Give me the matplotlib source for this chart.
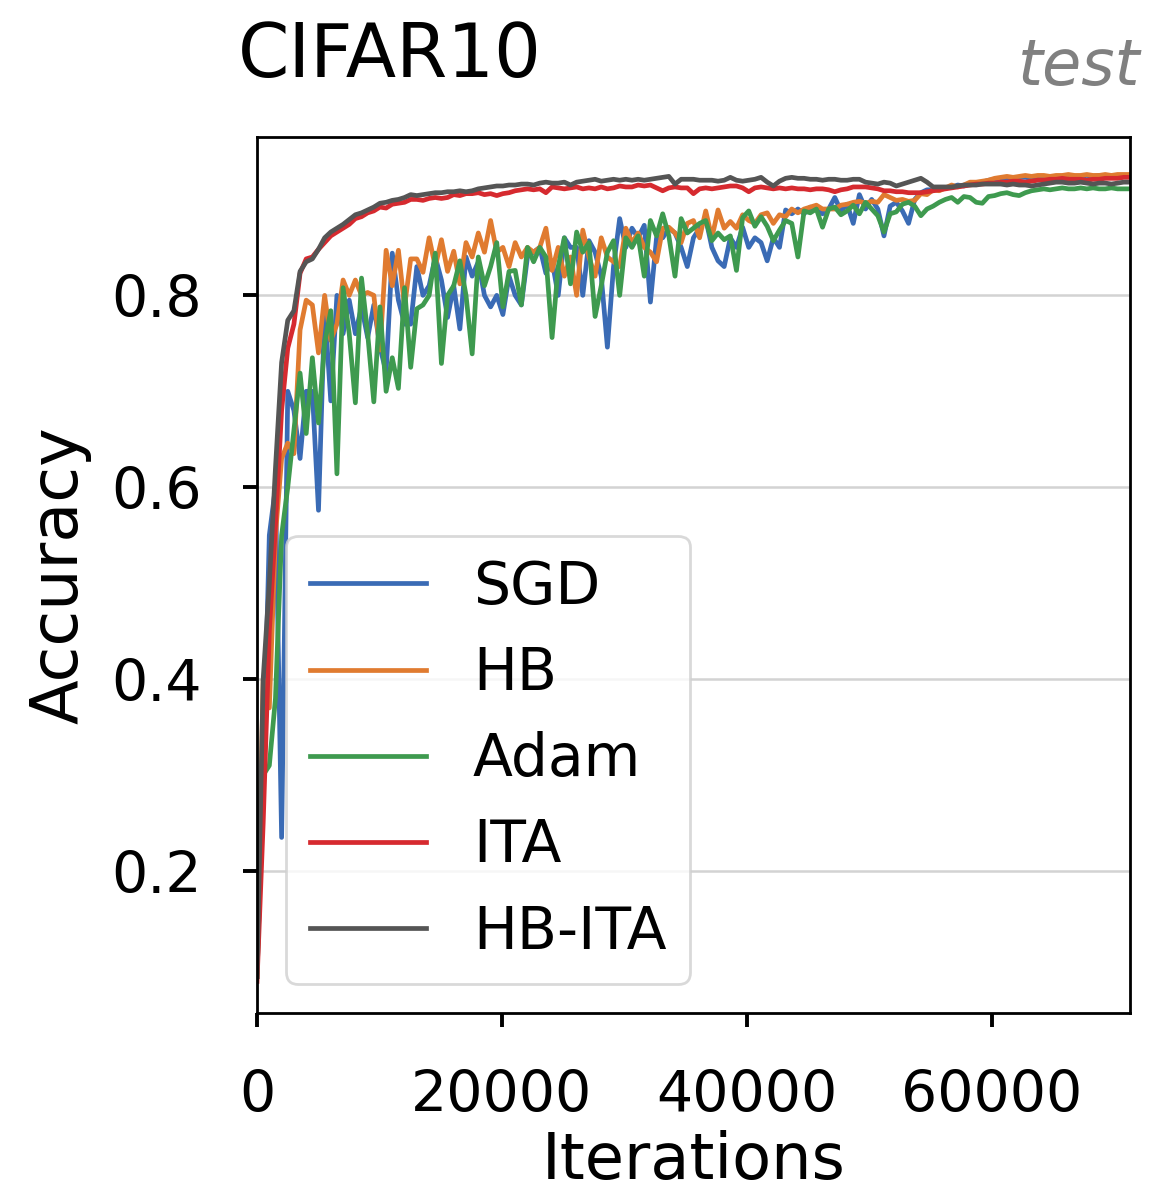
import numpy as np
import matplotlib.pyplot as plt

# test accuracy, one value every `step` iterations
step = 502

sgd = [0.09, 0.30, 0.55, 0.60, 0.235, 0.70, 0.68, 0.63, 0.70, 0.70,
       0.576, 0.786, 0.69, 0.80, 0.76, 0.795, 0.76, 0.788, 0.756, 0.79,
       0.746, 0.72, 0.844, 0.795, 0.77, 0.77, 0.83, 0.80, 0.81, 0.84,
       0.816, 0.777, 0.81, 0.765, 0.84, 0.82, 0.835, 0.80, 0.788, 0.80,
       0.78, 0.82, 0.80, 0.79, 0.84, 0.845, 0.85, 0.823, 0.836, 0.80,
       0.86, 0.85, 0.85, 0.80, 0.857, 0.845, 0.82, 0.746, 0.83, 0.88,
       0.85, 0.87, 0.86, 0.873, 0.793, 0.86, 0.86, 0.87, 0.865, 0.85,
       0.83, 0.86, 0.87, 0.88, 0.85, 0.836, 0.83, 0.86, 0.85, 0.871,
       0.85, 0.86, 0.855, 0.836, 0.86, 0.85, 0.889, 0.885, 0.89, 0.885,
       0.892, 0.89, 0.885, 0.89, 0.902, 0.888, 0.895, 0.875, 0.905, 0.89,
       0.90, 0.89, 0.862, 0.893, 0.897, 0.888, 0.875, 0.90, 0.907, 0.91,
       0.91, 0.912, 0.912, 0.913, 0.915, 0.914, 0.916, 0.917, 0.918, 0.92,
       0.921, 0.922, 0.921, 0.922, 0.923, 0.923, 0.922, 0.923, 0.924, 0.923,
       0.924, 0.924, 0.925, 0.924, 0.924, 0.925, 0.924, 0.925, 0.925, 0.924,
       0.925, 0.925, 0.925]

hb = [0.09, 0.40, 0.37, 0.55, 0.63, 0.646, 0.635, 0.764, 0.795, 0.79,
      0.74, 0.80, 0.753, 0.77, 0.816, 0.80, 0.816, 0.80, 0.803, 0.80,
      0.743, 0.847, 0.81, 0.847, 0.788, 0.838, 0.838, 0.824, 0.86, 0.83,
      0.858, 0.825, 0.846, 0.812, 0.855, 0.84, 0.865, 0.845, 0.878, 0.845,
      0.85, 0.83, 0.855, 0.84, 0.85, 0.845, 0.85, 0.87, 0.826, 0.85,
      0.82, 0.84, 0.80, 0.868, 0.84, 0.82, 0.86, 0.84, 0.835, 0.83,
      0.87, 0.855, 0.865, 0.85, 0.845, 0.835, 0.87, 0.871, 0.865, 0.855,
      0.875, 0.878, 0.86, 0.888, 0.86, 0.889, 0.87, 0.877, 0.87, 0.884,
      0.878, 0.875, 0.884, 0.886, 0.875, 0.884, 0.882, 0.89, 0.886, 0.89,
      0.892, 0.894, 0.89, 0.89, 0.89, 0.894, 0.895, 0.897, 0.898, 0.896,
      0.898, 0.897, 0.905, 0.902, 0.899, 0.90, 0.898, 0.899, 0.906, 0.905,
      0.91, 0.909, 0.912, 0.915, 0.913, 0.915, 0.918, 0.918, 0.919, 0.92,
      0.922, 0.923, 0.924, 0.923, 0.924, 0.925, 0.924, 0.925, 0.925, 0.924,
      0.925, 0.925, 0.926, 0.925, 0.925, 0.926, 0.925, 0.925, 0.926, 0.925,
      0.926, 0.926, 0.926]

adam = [0.09, 0.30, 0.31, 0.38, 0.55, 0.60, 0.66, 0.719, 0.656, 0.735,
        0.667, 0.75, 0.784, 0.614, 0.808, 0.76, 0.688, 0.818, 0.76, 0.689,
        0.788, 0.70, 0.735, 0.703, 0.808, 0.725, 0.786, 0.79, 0.80, 0.844,
        0.729, 0.80, 0.81, 0.836, 0.80, 0.739, 0.84, 0.81, 0.83, 0.855,
        0.788, 0.825, 0.826, 0.79, 0.85, 0.835, 0.85, 0.84, 0.756, 0.83,
        0.86, 0.812, 0.866, 0.845, 0.855, 0.778, 0.81, 0.845, 0.857, 0.80,
        0.86, 0.85, 0.862, 0.82, 0.878, 0.862, 0.885, 0.862, 0.82, 0.88,
        0.865, 0.87, 0.875, 0.878, 0.857, 0.865, 0.858, 0.862, 0.826, 0.881,
        0.888, 0.872, 0.882, 0.872, 0.857, 0.868, 0.878, 0.875, 0.84, 0.888,
        0.886, 0.89, 0.871, 0.89, 0.892, 0.884, 0.888, 0.894, 0.885, 0.897,
        0.89, 0.883, 0.866, 0.885, 0.887, 0.895, 0.897, 0.893, 0.883, 0.89,
        0.893, 0.897, 0.90, 0.902, 0.897, 0.903, 0.902, 0.897, 0.896, 0.903,
        0.904, 0.906, 0.907, 0.905, 0.904, 0.907, 0.909, 0.91, 0.911, 0.91,
        0.911, 0.912, 0.911, 0.911, 0.912, 0.911, 0.912, 0.911, 0.911, 0.912,
        0.911, 0.911, 0.911]

ita = [0.085, 0.25, 0.45, 0.56, 0.68, 0.745, 0.77, 0.823, 0.838, 0.84,
       0.848, 0.855, 0.862, 0.866, 0.87, 0.874, 0.88, 0.882, 0.886, 0.888,
       0.892, 0.891, 0.895, 0.896, 0.897, 0.90, 0.90, 0.899, 0.901, 0.902,
       0.901, 0.902, 0.905, 0.904, 0.906, 0.906, 0.907, 0.905, 0.906, 0.904,
       0.906, 0.907, 0.909, 0.91, 0.911, 0.91, 0.911, 0.907, 0.913, 0.912,
       0.911, 0.912, 0.913, 0.911, 0.912, 0.911, 0.913, 0.911, 0.912, 0.914,
       0.913, 0.913, 0.915, 0.914, 0.915, 0.912, 0.909, 0.912, 0.913, 0.912,
       0.912, 0.906, 0.911, 0.912, 0.911, 0.912, 0.913, 0.914, 0.914, 0.912,
       0.908, 0.912, 0.913, 0.912, 0.911, 0.912, 0.911, 0.912, 0.911, 0.911,
       0.91, 0.911, 0.911, 0.91, 0.908, 0.91, 0.911, 0.913, 0.913, 0.913,
       0.912, 0.911, 0.909, 0.909, 0.908, 0.908, 0.907, 0.907, 0.907, 0.908,
       0.909, 0.91, 0.911, 0.912, 0.913, 0.914, 0.915, 0.916, 0.916, 0.917,
       0.917, 0.918, 0.918, 0.919, 0.919, 0.918, 0.919, 0.92, 0.92, 0.921,
       0.921, 0.922, 0.921, 0.921, 0.921, 0.92, 0.921, 0.921, 0.922, 0.922,
       0.922, 0.923, 0.923]

hb_ita = [0.09, 0.40, 0.50, 0.62, 0.73, 0.774, 0.784, 0.825, 0.835, 0.838,
          0.848, 0.86, 0.866, 0.87, 0.874, 0.879, 0.884, 0.886, 0.889, 0.892,
          0.896, 0.897, 0.899, 0.90, 0.902, 0.905, 0.904, 0.905, 0.906, 0.907,
          0.907, 0.908, 0.908, 0.909, 0.908, 0.909, 0.911, 0.912, 0.913, 0.914,
          0.914, 0.915, 0.915, 0.916, 0.916, 0.915, 0.917, 0.918, 0.917, 0.917,
          0.918, 0.915, 0.918, 0.919, 0.92, 0.921, 0.919, 0.92, 0.921, 0.92,
          0.921, 0.92, 0.921, 0.92, 0.921, 0.922, 0.923, 0.924, 0.916, 0.921,
          0.921, 0.921, 0.92, 0.92, 0.92, 0.919, 0.92, 0.923, 0.92, 0.919,
          0.92, 0.921, 0.923, 0.918, 0.914, 0.919, 0.922, 0.923, 0.922, 0.922,
          0.921, 0.921, 0.92, 0.921, 0.921, 0.92, 0.92, 0.921, 0.921, 0.918,
          0.917, 0.916, 0.918, 0.917, 0.914, 0.916, 0.918, 0.92, 0.922, 0.918,
          0.913, 0.913, 0.913, 0.913, 0.914, 0.915, 0.915, 0.915, 0.916, 0.916,
          0.916, 0.916, 0.915, 0.916, 0.915, 0.915, 0.914, 0.915, 0.916, 0.917,
          0.918, 0.918, 0.917, 0.917, 0.918, 0.917, 0.916, 0.917, 0.917, 0.916,
          0.917, 0.918, 0.918]

names = ["SGD", "HB", "Adam", "ITA", "HB-ITA"]
series = [sgd, hb, adam, ita, hb_ita]
colors = ["#3a6bb5", "#e07b30", "#3e9a4f", "#d62a2f", "#555555"]

plt.rcParams['font.family'] = 'DejaVu Sans'

fig = plt.figure(figsize=(5.745, 5.99), dpi=200)
ax = fig.add_axes([0.2237, 0.1544, 0.7598, 0.7312])

for vals, name, c in zip(series, names, colors):
    it = np.arange(len(vals)) * step
    ax.plot(it, vals, color=c, lw=1.7, label=name)

ax.set_xlim(0, 71300)
ax.set_ylim(0.052, 0.965)
ax.set_xticks([0, 20000, 40000, 60000])
ax.set_yticks([0.2, 0.4, 0.6, 0.8])
ax.yaxis.grid(True, color='#d3d3d3', lw=0.9)
ax.set_axisbelow(True)

for s in ax.spines.values():
    s.set_linewidth(1.0)
    s.set_color('black')
ax.tick_params(direction='out', length=5, width=1.4, labelsize=20.5, pad=15)

ax.set_xlabel("Iterations", fontsize=23)
ax.set_ylabel("Accuracy", fontsize=23.5)
ax.xaxis.set_label_coords(0.5, -0.134)
ax.yaxis.set_label_coords(-0.19, 0.5)

ax.legend(loc='lower left', fontsize=21, frameon=True, fancybox=True,
          edgecolor='#d0d0d0', framealpha=0.8)

fig.text(238 / 1149, 1 - 77 / 1198, "CIFAR10", fontsize=26.5,
         ha='left', va='baseline')
fig.text(1140 / 1149, 1 - 85 / 1198, "test", fontsize=23, style='italic',
         color='#808080', ha='right', va='baseline')

fig.savefig("out.png", dpi=200)
